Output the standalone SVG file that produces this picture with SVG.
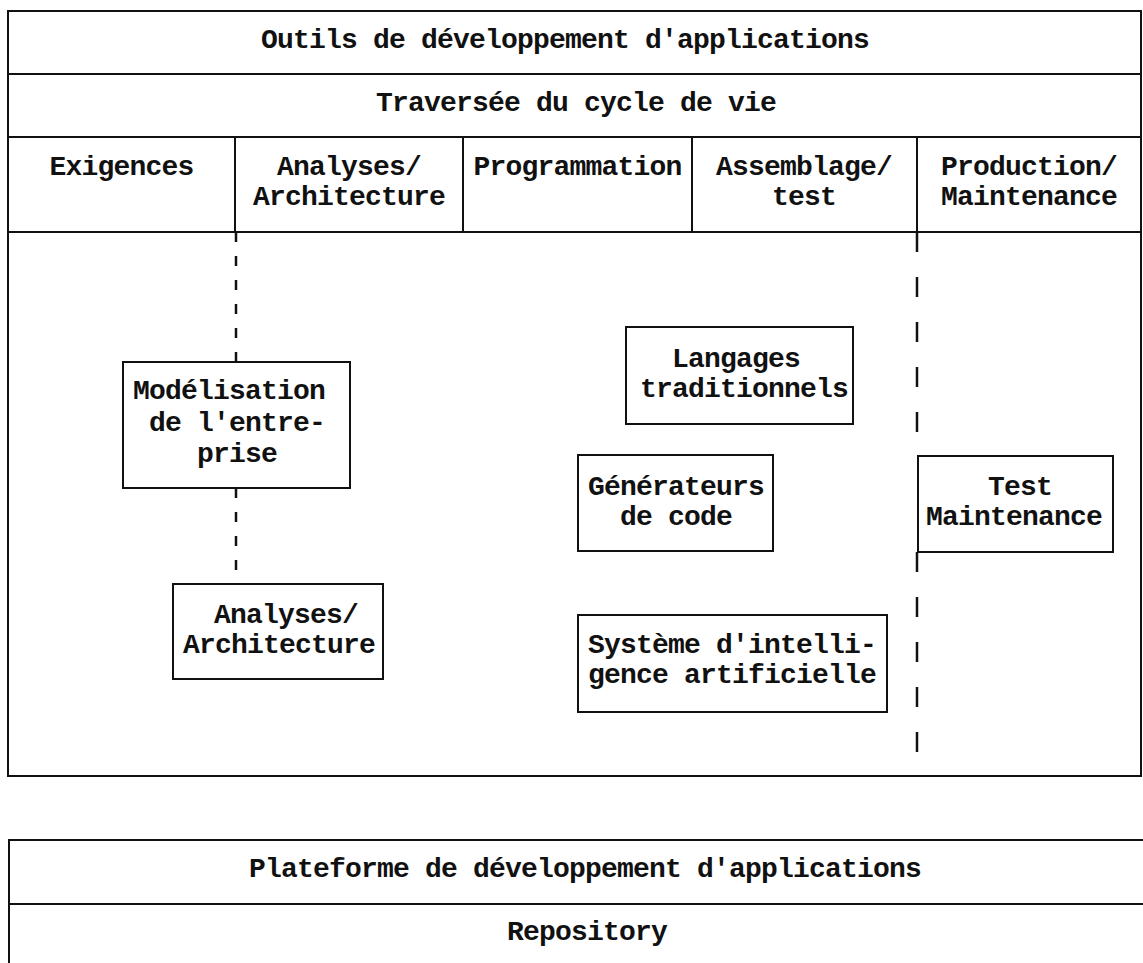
<svg xmlns="http://www.w3.org/2000/svg" width="1143" height="963" viewBox="0 0 1143 963">
<style>
.f{fill:none;stroke:#111;stroke-width:2}
.t{font-family:"Liberation Mono","Courier New",monospace;font-size:28px;font-weight:bold;fill:#111;letter-spacing:-0.8px}
.c{text-anchor:middle}
.d1{stroke:#111;stroke-width:2.5;stroke-dasharray:10 14;fill:none}
.d2{stroke:#111;stroke-width:2.5;stroke-dasharray:20 25;fill:none}
</style>
<rect width="1143" height="963" fill="#fff"/>
<g id="outils">
<rect class="f" x="8" y="11" width="1133" height="765"/>
<line class="f" x1="8" y1="74" x2="1141" y2="74"/>
<line class="f" x1="8" y1="137" x2="1141" y2="137"/>
<line class="f" x1="8" y1="232" x2="1141" y2="232"/>
<line class="f" x1="235" y1="137" x2="235" y2="232"/>
<line class="f" x1="463" y1="137" x2="463" y2="232"/>
<line class="f" x1="692" y1="137" x2="692" y2="232"/>
<line class="f" x1="917" y1="137" x2="917" y2="232"/>
<text class="t c" x="565" y="48">Outils de développement d'applications</text>
<text class="t c" x="576" y="111">Traversée du cycle de vie</text>
<text class="t c" x="121.5" y="175">Exigences</text>
<text class="t c" x="349" y="175">Analyses/</text>
<text class="t c" x="349" y="205">Architecture</text>
<text class="t c" x="577.5" y="175">Programmation</text>
<text class="t c" x="804" y="175">Assemblage/</text>
<text class="t c" x="804" y="205">test</text>
<text class="t c" x="1029" y="175">Production/</text>
<text class="t c" x="1029" y="205">Maintenance</text>
</g>
<g id="connectors">
<line class="d1" x1="236" y1="232" x2="236" y2="362"/>
<line class="d1" x1="236" y1="488" x2="236" y2="584"/>
<line class="d2" x1="917" y1="232" x2="917" y2="456"/>
<line class="d2" x1="917" y1="552" x2="917" y2="776"/>
</g>
<g id="modelisation">
<rect class="f" x="123" y="362" width="227" height="126"/>
<text class="t" x="133" y="399">Modélisation</text>
<text class="t" x="149" y="431">de l'entre-</text>
<text class="t" x="197" y="462">prise</text>
</g>
<g id="analyses">
<rect class="f" x="173" y="584" width="210" height="95"/>
<text class="t" x="214" y="623">Analyses/</text>
<text class="t" x="183" y="653">Architecture</text>
</g>
<g id="langages">
<rect class="f" x="626" y="327" width="227" height="97"/>
<text class="t" x="672" y="367">Langages</text>
<text class="t" x="640" y="397">traditionnels</text>
</g>
<g id="generateurs">
<rect class="f" x="578" y="455" width="195" height="96"/>
<text class="t" x="588" y="495">Générateurs</text>
<text class="t" x="620" y="525">de code</text>
</g>
<g id="systeme">
<rect class="f" x="578" y="615" width="309" height="97"/>
<text class="t" x="588" y="653">Système d'intelli-</text>
<text class="t" x="588" y="683">gence artificielle</text>
</g>
<g id="test">
<rect class="f" x="918" y="456" width="195" height="96"/>
<text class="t" x="988" y="495">Test</text>
<text class="t" x="926" y="525">Maintenance</text>
</g>
<g id="plateforme">
<path class="f" d="M1143 840 H9 V963 M9 904 H1143"/>
<text class="t c" x="585" y="877">Plateforme de développement d'applications</text>
<text class="t c" x="587" y="940">Repository</text>
</g>
</svg>
